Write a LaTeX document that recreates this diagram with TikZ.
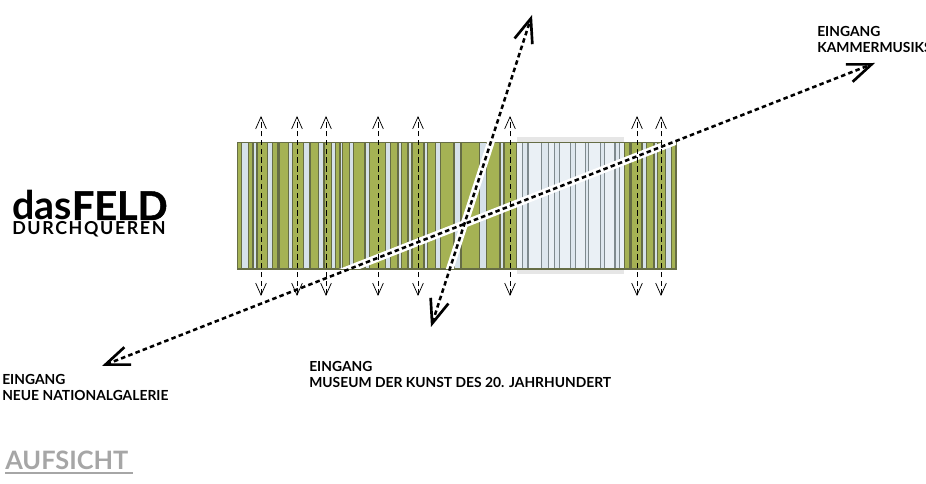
\documentclass[tikz,border=0pt]{standalone}
\usepackage{fontspec}
\setmainfont{Lato}
\usetikzlibrary{arrows.meta,positioning}
\definecolor{feldgreen}{HTML}{A5B254}
\definecolor{feldolive}{HTML}{666D45}
\definecolor{feldblue}{HTML}{D6E1E9}
\definecolor{feldpale}{HTML}{EAF0F5}
\definecolor{feldgrey}{HTML}{7F8A8E}
\definecolor{feldband}{HTML}{E6E6E6}
\definecolor{aufgrey}{HTML}{A6A6A6}

\begin{document}
\begin{tikzpicture}[
    x=0.75pt, y=-0.75pt,
    greenstrip/.style={draw=feldolive, fill=feldgreen, line width=0.8pt},
    palestrip/.style={draw=feldgrey, fill=feldblue!60!feldpale, line width=1pt},
    eingang/.style={font=\fontsize{10.4}{12}\selectfont\bfseries, anchor=north west,
                    align=left, inner sep=0pt},
    crossing/.style={{Straight Barb[length=9pt,width=8pt]}-{Straight Barb[length=9pt,width=8pt]},
                     line width=0.55pt, dash pattern=on 4pt off 2.6pt, black},
    route/.style={{Straight Barb[length=18pt,width=14pt,line width=2pt]}-{Straight Barb[length=18pt,width=14pt,line width=2pt]},
                  line width=1.9pt, dash pattern=on 3.4pt off 2.4pt, black},
    halo/.style={white, line width=5.6pt},
]
\useasboundingbox (0,0) rectangle (926,484);

%% Grey band behind the pale part
\fill[feldband] (517,137.5) rectangle (624,274.5);

%% Blue ground and pale ground of the field
\fill[feldblue] (237,142.5) rectangle (517,269);
\fill[feldpale] (517,142.5) rectangle (624,269);
\fill[feldblue] (624,142.5) rectangle (676,269);

%% Green strips
\foreach \xa/\xb in {237.5/241.7, 248.3/253, 257/267.7, 272.7/278, 279.3/288.7,
                     292.3/303.3, 310/318.7, 324/331.7, 335.7/340, 342.3/349.3,
                     353.3/365, 369.3/385.3, 390.3/398, 401.3/408, 412/424,
                     427.3/435.7, 440.3/454, 461/479.3, 486.7/500, 504/516.7,
                     624.3/630, 631.7/642, 646.7/654, 657.3/665.7, 671.7/676}
    \draw[greenstrip] (\xa,142.5) rectangle (\xb,269);

%% Thin strips in the pale part
\foreach \xa/\xb in {522.7/528, 541.7/548.3, 554.3/559.3, 570.7/575.7,
                     585.7/588.7, 600.7/604.7, 615/619.3}
    \draw[palestrip] (\xa,142.5) rectangle (\xb,269);

%% Upper and lower edge
\draw[feldolive, line width=0.8pt] (237,142.5) -- (676,142.5);
\draw[feldolive, line width=0.8pt] (237,269) -- (676,269);

%% Routes: white gap below the dashes
\coordinate (neue)   at (102,366);
\coordinate (kammer) at (875,63);
\coordinate (museum) at (431,327);
\coordinate (north)  at (532,15);
\begin{scope}
    \clip (237,142.5) rectangle (676,269);
    \draw[halo] (neue) -- (kammer);
    \draw[halo] (museum) -- (north);
\end{scope}

%% Crossings of the field
\foreach \xc in {261,297,326,378,418,510,637,661} {
    \coordinate (top\xc) at (\xc,116);
    \coordinate (bot\xc) at (\xc,296);
    \draw[crossing] (bot\xc) -- (top\xc);
}

\draw[route] (neue) -- (kammer);
\draw[route] (museum) -- (north);

%% Texts
\node[anchor=base west, inner sep=0pt] (title) at (12,220)
    {\fontsize{29.6}{30}\selectfont\textbf{das}\addfontfeature{FakeBold=1.2}\textbf{FELD}};
\node[anchor=base west, inner sep=0pt, font=\fontsize{13.4}{14}\selectfont\bfseries\addfontfeature{LetterSpace=9}] (subtitle) at (12,235)
    {DURCHQUEREN};
\node[eingang] (kammertext) at (817,26) {EINGANG\\KAMMERMUSIKS};
\node[eingang] (museumtext) at (309,361) {EINGANG\\MUSEUM DER KUNST DES 20. JAHRHUNDERT};
\node[eingang] (neuetext) at (2,374) {EINGANG\\NEUE NATIONALGALERIE};
\node[anchor=base west, inner sep=0pt, text=aufgrey, font=\fontsize{19}{19}\selectfont\bfseries] (aufsicht) at (5,470)
    {AUFSICHT};
\draw[aufgrey, line width=0.8pt] (5,473) -- (133,473);

\end{tikzpicture}
\end{document}
